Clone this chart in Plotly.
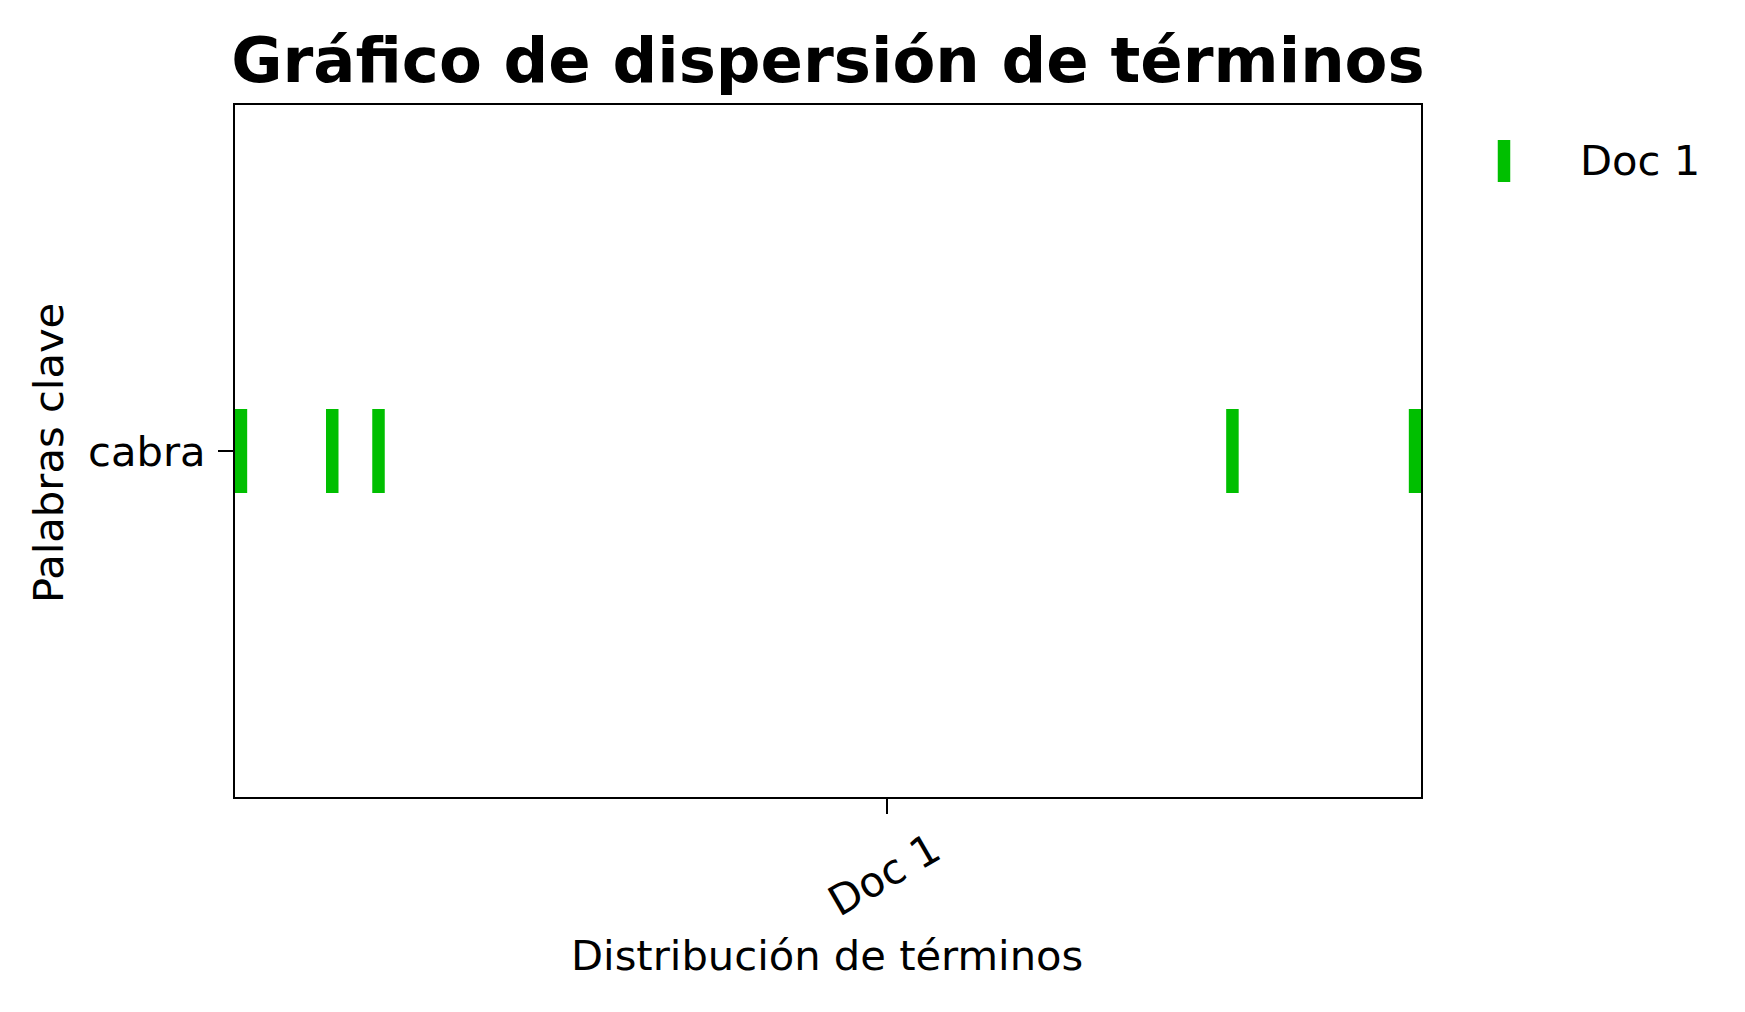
import plotly.graph_objects as go

# ---- data ----
keywords = ["cabra"]
doc_names = ["Doc 1"]
offsets_doc1 = [0.0, 7.7, 11.6, 83.6, 99.0]      # word offsets of "cabra" in Doc 1
doc_tick_positions = [54.5]                       # x tick position for "Doc 1"
x_range = [-0.5, 99.5]

title_text = "Gráfico de dispersión de términos"
x_title = "Distribución de términos"
y_title = "Palabras clave"

GREEN = "#00BF00"
FONT = "DejaVu Sans"
LBL = 41.67

W, H = 1745, 1012
L, R, T, B = 235, 1421, 105, 797

fig = go.Figure()
fig.add_trace(go.Scatter(
    x=offsets_doc1,
    y=[keywords[0]] * len(offsets_doc1),
    mode="markers",
    name=doc_names[0],
    marker=dict(symbol="line-ns", size=60, color=GREEN,
                line=dict(color=GREEN, width=12.5)),
    showlegend=False,
    cliponaxis=True,
))

fig.update_layout(
    width=W, height=H,
    margin=dict(l=L, r=W - R, t=T, b=H - B, pad=0),
    paper_bgcolor="white", plot_bgcolor="white",
    font=dict(family=FONT, size=LBL, color="black"),
    title=dict(text="<b>" + title_text + "</b>", x=(828 - L) / (R - L), xref="paper",
               xanchor="center", y=1 - 60 / H, yref="container", yanchor="middle",
               font=dict(family=FONT, size=62.5, color="black")),
    xaxis=dict(range=x_range, tickmode="array", tickvals=doc_tick_positions,
               ticktext=doc_names, showticklabels=False, showgrid=False, zeroline=False,
               showline=True, mirror=True, linecolor="black", linewidth=2.2,
               ticks="outside", ticklen=15, tickwidth=2.2, tickcolor="black"),
    yaxis=dict(type="category", categoryarray=keywords, range=[-1, 1],
               showgrid=False, zeroline=False, showline=True, mirror=True,
               linecolor="black", linewidth=2.2, ticks="outside", ticklen=15,
               tickwidth=2.2, tickcolor="black", ticklabelstandoff=4,
               tickfont=dict(family=FONT, size=LBL, color="black")),
    showlegend=False,
)

# rotated x tick labels
for pos, name in zip(doc_tick_positions, doc_names):
    fig.add_annotation(x=pos, xref="x", y=0, yref="paper", yshift=-25, xshift=-3,
                       text=name, textangle=-30, showarrow=False,
                       xanchor="center", yanchor="top", borderpad=0,
                       font=dict(family=FONT, size=LBL, color="black"))

# axis titles
fig.add_annotation(x=(827 - L) / (R - L), xref="paper", y=-(955 - B) / (B - T), yref="paper",
                   text=x_title, showarrow=False, xanchor="center", yanchor="middle",
                   font=dict(family=FONT, size=LBL, color="black"))
fig.add_annotation(x=-(L - 48) / (R - L), xref="paper", y=(B - 453) / (B - T), yref="paper",
                   text=y_title, textangle=-90, showarrow=False, xanchor="center",
                   yanchor="middle", font=dict(family=FONT, size=LBL, color="black"))

# legend
leg_x = (1504 - L) / (R - L)
fig.add_shape(type="line", xref="paper", yref="paper", x0=leg_x, x1=leg_x,
              y0=(B - 140) / (B - T), y1=(B - 182) / (B - T),
              line=dict(color=GREEN, width=12.5))
fig.add_annotation(x=(1578 - L) / (R - L), xref="paper", y=(B - 161) / (B - T), yref="paper",
                   text=doc_names[0], showarrow=False, xanchor="left", yanchor="middle",
                   font=dict(family=FONT, size=LBL, color="black"))

fig.write_html("out.html")
